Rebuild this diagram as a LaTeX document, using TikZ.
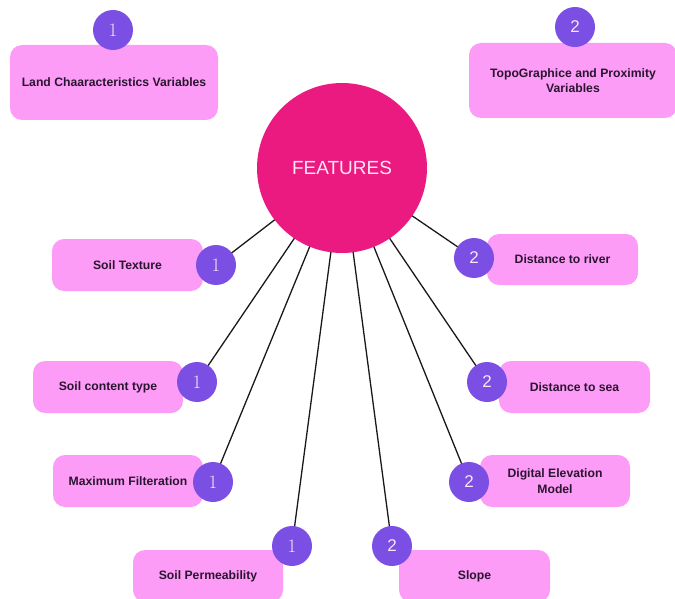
\documentclass[tikz,border=0pt]{standalone}
\usepackage{fontspec}
\setmainfont{Liberation Sans}
\newfontfamily\lmfont{Latin Modern Roman}
\definecolor{boxpink}{HTML}{FD9CF6}
\definecolor{badgepurple}{HTML}{7B4FE3}
\definecolor{centermag}{HTML}{EA1A80}
\definecolor{txtdark}{HTML}{2A1530}
\definecolor{lighttxt}{HTML}{FDE6F2}
\begin{document}
\begin{tikzpicture}[x=1pt,y=1pt,
  featbox/.style={rectangle, rounded corners=12pt, fill=boxpink, draw=none,
    align=center, font=\fontsize{12.2}{15.5}\selectfont\bfseries, text=txtdark, inner sep=2pt},
  badge/.style={circle, fill=badgepurple, draw=none, minimum size=40pt, inner sep=0pt,
    text=lighttxt, font=\fontsize{17}{17}\selectfont},
  onebadge/.style={badge, font=\lmfont\fontsize{19}{19}\selectfont},
  spoke/.style={draw=black!90, line width=1.3pt}]
\useasboundingbox (0,0) rectangle (675,-599);
% boxes
\node[featbox, minimum width=208pt, minimum height=75pt] (b1) at (114,-82.5) {Land Chaaracteristics Variables};
\node[featbox, minimum width=208pt, minimum height=75pt] (b2) at (573,-80.5) {TopoGraphice and Proximity\\Variables};
\node[featbox, minimum width=151pt, minimum height=52pt] (st) at (127.5,-265) {Soil Texture};
\node[featbox, minimum width=150pt, minimum height=52pt] (sc) at (108,-387) {Soil content type};
\node[featbox, minimum width=150pt, minimum height=52pt] (mf) at (128,-481) {Maximum Filteration};
\node[featbox, minimum width=150pt, minimum height=52pt] (sp) at (208,-576) {Soil Permeability};
\node[featbox, minimum width=151pt, minimum height=52pt] (sl) at (474.5,-576) {Slope};
\node[featbox, minimum width=150pt, minimum height=52pt] (dem) at (555,-481) {Digital Elevation\\Model};
\node[featbox, minimum width=151pt, minimum height=51pt] (dr) at (562.5,-259.5) {Distance to river};
\node[featbox, minimum width=151pt, minimum height=52pt] (ds) at (574.5,-387) {Distance to sea};
% center coordinate
\coordinate (c) at (342,-168);
% badge positions
\coordinate (pst) at (216,-265);
\coordinate (psc) at (197,-382);
\coordinate (pmf) at (213,-482);
\coordinate (psp) at (292,-546);
\coordinate (psl) at (392,-546);
\coordinate (pdem) at (469,-482);
\coordinate (pds) at (487,-382);
\coordinate (pdr) at (474,-258);
% spokes
\foreach \p in {pst,psc,pmf,psp,psl,pdem,pds,pdr} {\draw[spoke] (c) -- (\p);}
% central circle
\node[circle, fill=centermag, minimum size=170pt, inner sep=0pt, text=lighttxt,
  font=\fontsize{19}{19}\selectfont] (feat) at (c) {FEATURES};
% badges
\node[onebadge] (n1) at (113,-30) {1};
\node[badge] (n2) at (575,-27) {2};
\node[onebadge] (bst) at (pst) {1};
\node[onebadge] (bsc) at (psc) {1};
\node[onebadge] (bmf) at (pmf) {1};
\node[onebadge] (bsp) at (psp) {1};
\node[badge] (bsl) at (psl) {2};
\node[badge] (bdem) at (pdem) {2};
\node[badge] (bds) at (pds) {2};
\node[badge] (bdr) at (pdr) {2};
\end{tikzpicture}
\end{document}
